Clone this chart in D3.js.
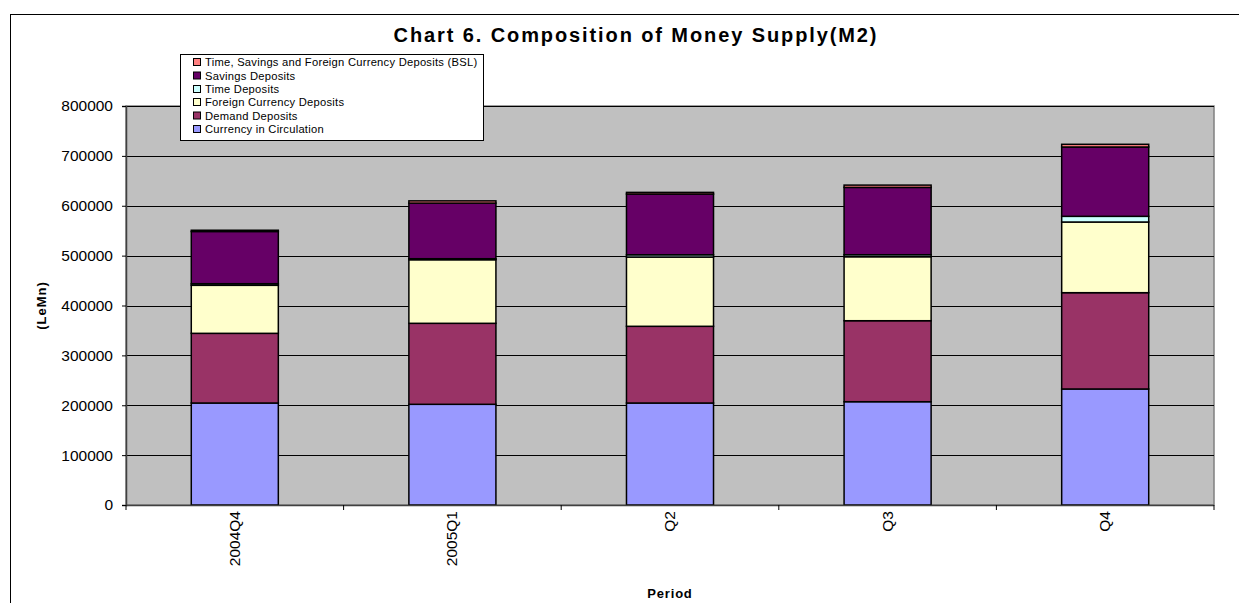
<!DOCTYPE html>
<html><head><meta charset="utf-8">
<script src="https://cdn.jsdelivr.net/npm/d3@7"></script>
<style>body{margin:0;background:#fff}svg{display:block}</style>
</head><body>
<svg id="c" width="1239" height="603"></svg>
<script>
const categories = ["2004Q4", "2005Q1", "Q2", "Q3", "Q4"];
const currency = [204500, 201900, 204500, 207100, 232600];
const demand   = [139700, 162400, 153800, 162400, 193100];
const fcd      = [96300, 127500, 138900, 128300, 141700];
const timeDep  = [3200, 2000, 4500, 4000, 11400];
const savings  = [104700, 111500, 121700, 135000, 139000];
const bsl      = [2500, 4500, 3400, 4600, 5400];
const seriesNames = ["Currency in Circulation", "Demand Deposits", "Foreign Currency Deposits", "Time Deposits", "Savings Deposits", "Time, Savings and Foreign Currency Deposits (BSL)"];
const seriesColors = ["#9999FF", "#993366", "#FFFFCC", "#CCFFFF", "#660066", "#FF8080"];
const yTicks = [0, 100000, 200000, 300000, 400000, 500000, 600000, 700000, 800000];

const seriesVals = [currency, demand, fcd, timeDep, savings, bsl];
const keys = seriesNames;
const rows = categories.map((c, i) => {
  const r = {cat: c};
  keys.forEach((k, j) => r[k] = seriesVals[j][i]);
  return r;
});

const svg = d3.select("#c");
const font = "'Liberation Sans', Arial, sans-serif";
const L = 126, R = 1214, T = 106, B = 505;

// chart border
svg.append("rect").attr("x", 10.5).attr("y", 14.5).attr("width", 1300).attr("height", 700)
  .attr("fill", "#fff").attr("stroke", "#000").attr("stroke-width", 1);

const x = d3.scaleBand().domain(categories).range([L, R]).paddingInner(0.6).paddingOuter(0.3);
const y = d3.scaleLinear().domain([0, 800000]).range([B, T]);

// plot area
svg.append("rect").attr("x", L).attr("y", T).attr("width", R - L).attr("height", B - T)
  .attr("fill", "#C0C0C0").attr("stroke", "#808080").attr("stroke-width", 1.5);

// gridlines
svg.append("g").selectAll("line").data(yTicks.filter(t => t > 0)).join("line")
  .attr("x1", L).attr("x2", R).attr("y1", d => Math.round(y(d)) + 0.5).attr("y2", d => Math.round(y(d)) + 0.5)
  .attr("stroke", "#000").attr("stroke-width", 1);

// stacked bars
const stack = d3.stack().keys(keys)(rows);
svg.append("g").selectAll("g").data(stack).join("g")
  .attr("fill", (d, i) => seriesColors[i])
  .selectAll("rect").data(d => d).join("rect")
  .attr("x", d => x(d.data.cat))
  .attr("width", x.bandwidth())
  .attr("y", d => y(d[1]))
  .attr("height", d => y(d[0]) - y(d[1]))
  .attr("stroke", "#000").attr("stroke-width", 1.5);

// y axis
const yAxis = d3.axisLeft(y).tickValues(yTicks).tickSize(4).tickPadding(9).tickFormat(d3.format("d"));
const gy = svg.append("g").attr("transform", `translate(${L},0)`).call(yAxis);
gy.select(".domain").attr("stroke", "#404040").attr("stroke-width", 1.5);
gy.selectAll(".tick line").attr("stroke", "#000");
gy.selectAll("text").attr("font-family", font).attr("font-size", 15.5).attr("fill", "#000");

// x axis: ticks at band boundaries
const bounds = categories.map((c, i) => L + i * (R - L) / categories.length).concat([R]);
svg.append("line").attr("x1", L).attr("x2", R).attr("y1", B + 0.5).attr("y2", B + 0.5)
  .attr("stroke", "#404040").attr("stroke-width", 1.5);
svg.append("g").selectAll("line").data(bounds).join("line")
  .attr("x1", d => d).attr("x2", d => d).attr("y1", B).attr("y2", B + 5)
  .attr("stroke", "#000");
svg.append("g").selectAll("text").data(categories).join("text")
  .attr("transform", d => `translate(${x(d) + x.bandwidth() / 2 + 5},${B + 6}) rotate(-90)`)
  .attr("text-anchor", "end")
  .attr("font-family", font).attr("font-size", 15.5)
  .text(d => d);

// titles
svg.append("text").attr("x", 636).attr("y", 42).attr("text-anchor", "middle")
  .attr("font-family", font).attr("font-size", 20).attr("font-weight", "bold")
  .attr("letter-spacing", "1.9px")
  .text("Chart 6. Composition of Money Supply(M2)");
svg.append("text").attr("transform", `translate(46,${(T + B) / 2}) rotate(-90)`)
  .attr("text-anchor", "middle").attr("font-family", font).attr("font-size", 13).attr("font-weight", "bold")
  .attr("letter-spacing", "1px")
  .text("(LeMn)");
svg.append("text").attr("x", (L + R) / 2).attr("y", 598).attr("text-anchor", "middle")
  .attr("font-family", font).attr("font-size", 13).attr("font-weight", "bold").attr("letter-spacing", "0.8px")
  .text("Period");

// legend
const lg = svg.append("g");
lg.append("rect").attr("x", 180.5).attr("y", 54.5).attr("width", 303).attr("height", 86)
  .attr("fill", "#fff").attr("stroke", "#000").attr("stroke-width", 1);
const legendOrder = [5, 4, 3, 2, 1, 0];
const rowsY = [62, 75.5, 89, 102, 115.5, 129];
legendOrder.forEach((si, k) => {
  lg.append("rect").attr("x", 193.5).attr("y", rowsY[k] - 3.5).attr("width", 7).attr("height", 7)
    .attr("fill", seriesColors[si]).attr("stroke", "#000").attr("stroke-width", 1);
  lg.append("text").attr("x", 205).attr("y", rowsY[k] + 4)
    .attr("font-family", font).attr("font-size", 11.2).attr("letter-spacing", "0.25px")
    .text(seriesNames[si]);
});
</script>
</body></html>
